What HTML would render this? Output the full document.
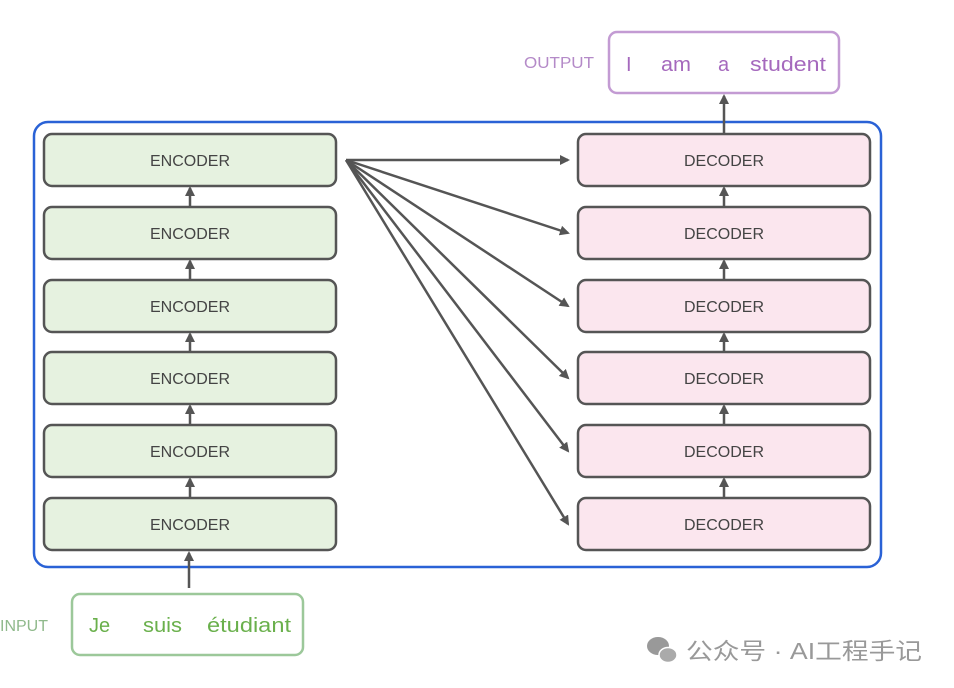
<!DOCTYPE html>
<html><head><meta charset="utf-8"><style>
body{margin:0;background:#fff;width:954px;height:688px;overflow:hidden}
svg{display:block}
text{font-family:"Liberation Sans","DejaVu Sans","Noto Sans CJK SC",sans-serif}
</style></head><body>
<svg width="954" height="688" viewBox="0 0 954 688">
<defs>
<marker id="a" markerWidth="10" markerHeight="10" refX="8" refY="5" orient="auto" markerUnits="userSpaceOnUse"><path d="M0,0 L10,5 L0,10 z" fill="#555"/></marker>
</defs>
<rect x="34" y="122" width="847" height="445" rx="14" fill="none" stroke="#2a62d6" stroke-width="2.5"/>
<g stroke="#555" stroke-width="2.5">
<rect x="44" y="134" width="292" height="52" rx="8" fill="#e6f2e0"/>
<rect x="44" y="207" width="292" height="52" rx="8" fill="#e6f2e0"/>
<rect x="44" y="280" width="292" height="52" rx="8" fill="#e6f2e0"/>
<rect x="44" y="352" width="292" height="52" rx="8" fill="#e6f2e0"/>
<rect x="44" y="425" width="292" height="52" rx="8" fill="#e6f2e0"/>
<rect x="44" y="498" width="292" height="52" rx="8" fill="#e6f2e0"/>
<rect x="578" y="134" width="292" height="52" rx="8" fill="#fbe6ee"/>
<rect x="578" y="207" width="292" height="52" rx="8" fill="#fbe6ee"/>
<rect x="578" y="280" width="292" height="52" rx="8" fill="#fbe6ee"/>
<rect x="578" y="352" width="292" height="52" rx="8" fill="#fbe6ee"/>
<rect x="578" y="425" width="292" height="52" rx="8" fill="#fbe6ee"/>
<rect x="578" y="498" width="292" height="52" rx="8" fill="#fbe6ee"/>
</g>
<g font-size="16" fill="#444" text-anchor="middle">
<text x="190" y="166">ENCODER</text><text x="190" y="239">ENCODER</text><text x="190" y="312">ENCODER</text>
<text x="190" y="384">ENCODER</text><text x="190" y="457">ENCODER</text><text x="190" y="530">ENCODER</text>
<text x="724" y="166">DECODER</text><text x="724" y="239">DECODER</text><text x="724" y="312">DECODER</text>
<text x="724" y="384">DECODER</text><text x="724" y="457">DECODER</text><text x="724" y="530">DECODER</text>
</g>
<g stroke="#555" stroke-width="2.5" marker-end="url(#a)" fill="none">
<line x1="190" y1="207" x2="190" y2="188"/><line x1="190" y1="280" x2="190" y2="261"/>
<line x1="190" y1="352" x2="190" y2="334"/><line x1="190" y1="425" x2="190" y2="406"/>
<line x1="190" y1="498" x2="190" y2="479"/>
<line x1="724" y1="207" x2="724" y2="188"/><line x1="724" y1="280" x2="724" y2="261"/>
<line x1="724" y1="352" x2="724" y2="334"/><line x1="724" y1="425" x2="724" y2="406"/>
<line x1="724" y1="498" x2="724" y2="479"/>
<line x1="724" y1="134" x2="724" y2="96"/>
<line x1="189" y1="588" x2="189" y2="553"/>
<line x1="346" y1="160" x2="568" y2="160"/>
<line x1="346" y1="160" x2="568" y2="233"/>
<line x1="346" y1="160" x2="568" y2="306"/>
<line x1="346" y1="160" x2="568" y2="378"/>
<line x1="346" y1="160" x2="568" y2="451"/>
<line x1="346" y1="160" x2="568" y2="524"/>
</g>
<rect x="609" y="32" width="230" height="61" rx="8" fill="#fff" stroke="#c39bd3" stroke-width="2.5"/>
<text x="524" y="68" font-size="16" fill="#b48ac8" textLength="70" lengthAdjust="spacingAndGlyphs">OUTPUT</text>
<g font-size="20" fill="#a569bd">
<text x="626" y="71">I</text>
<text x="661" y="71" textLength="30" lengthAdjust="spacingAndGlyphs">am</text>
<text x="718" y="71">a</text>
<text x="750" y="71" textLength="76" lengthAdjust="spacingAndGlyphs">student</text>
</g>
<rect x="72" y="594" width="231" height="61" rx="8" fill="#fff" stroke="#9cc89a" stroke-width="2.5"/>
<text x="0" y="631" font-size="16" fill="#8fb98b">INPUT</text>
<g font-size="20" fill="#6ab04c">
<text x="89" y="632">Je</text>
<text x="143" y="632" textLength="39" lengthAdjust="spacingAndGlyphs">suis</text>
<text x="207" y="632" textLength="84" lengthAdjust="spacingAndGlyphs">étudiant</text>
</g>
<g fill="#999"><ellipse cx="658" cy="646" rx="11" ry="9"/><ellipse cx="668" cy="655" rx="9" ry="7.5" fill="#aaa" stroke="#fff" stroke-width="1.5"/></g>
<text x="686" y="659" font-size="23" fill="#999" textLength="236" lengthAdjust="spacingAndGlyphs">公众号 · AI工程手记</text>
</svg>
</body></html>
